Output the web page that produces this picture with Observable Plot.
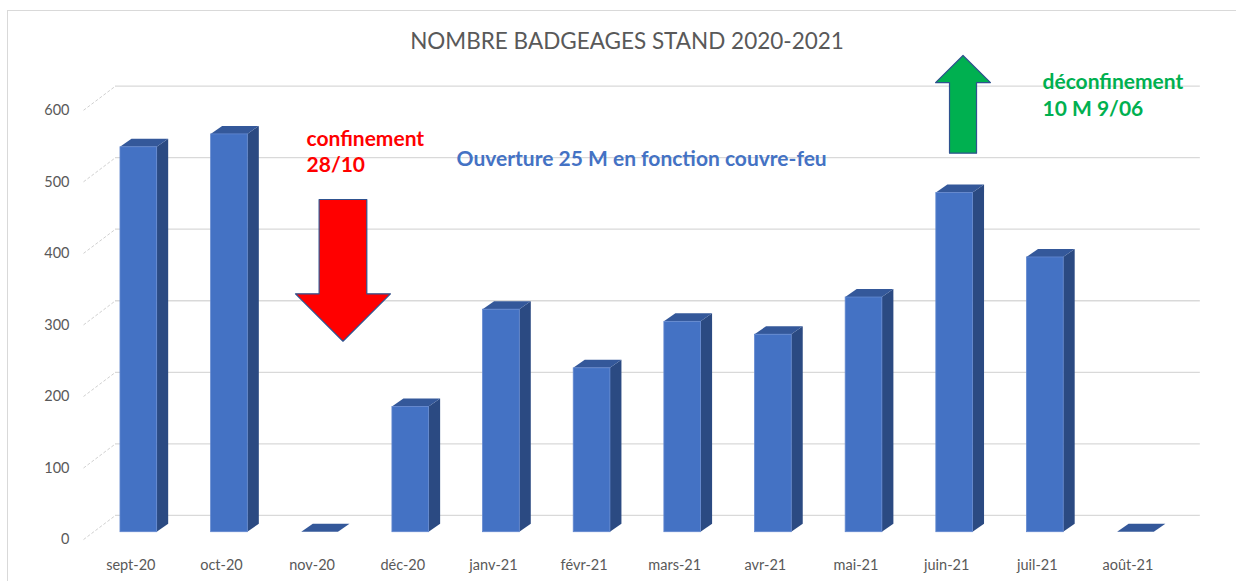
<!DOCTYPE html>
<html><head><meta charset="utf-8">
<script src="https://cdn.jsdelivr.net/npm/d3@7"></script>
<script src="https://cdn.jsdelivr.net/npm/@observablehq/plot@0.6"></script>
<style>
html,body{margin:0;padding:0;background:#fff;}
#wrap{position:relative;width:1236px;height:581px;overflow:hidden;font-family:Lato, sans-serif;}
#frame{position:absolute;left:7px;top:10px;width:1260px;height:600px;border:1px solid #d9d9d9;box-sizing:border-box;}
#title{position:relative;height:50px;box-sizing:border-box;padding-top:30px;padding-left:18px;text-align:center;font-size:22.5px;line-height:22px;color:#595959;white-space:nowrap;}
#chart{position:relative;}
#chart svg{overflow:visible;}
</style></head><body>
<div id="wrap"><div id="frame"></div><div id="title">NOMBRE BADGEAGES STAND 2020-2021</div><div id="chart"></div></div>
<script>
// ---- data ----
const months = ["sept-20","oct-20","nov-20","déc-20","janv-21","févr-21","mars-21","avr-21","mai-21","juin-21","juil-21","août-21"];
const badgeages = [538, 556, 0, 175, 311, 229, 294, 276, 328, 474, 384, 0];
const yTicks = [0, 100, 200, 300, 400, 500, 600];

// ---- annotations ----
const notes = [
  {text: "confinement\n28/10", x: 1.85, y: 533.5, color: "#FF0000"},
  {text: "Ouverture 25 M en fonction couvre-feu", x: 3.505, y: 523.7, color: "#4472C4"},
  {text: "déconfinement\n10 M 9/06", x: 9.969, y: 612.4, color: "#00B050"}
];
const arrows = [
  {id: "down", x: 2.252, shaft: 0.263, head: 0.524, tail: 465.0, base: 333.2, tip: 266.9, color: "#FF0000"},
  {id: "up", x: 9.092, shaft: 0.149, head: 0.303, tail: 529.7, base: 628.4, tip: 666.3, color: "#00B050"}
];

// ---- 3D geometry (pseudo-depth) ----
const hw = 0.2024, d = 0.127, dv = 11.2, back = 23.5;
const bars = months.map((m, i) => ({i, m, v: badgeages[i]}));
const sideFace = bars.flatMap(b => [
  {i: b.i, x: b.i + hw, y1: 0, y2: b.v},
  {i: b.i, x: b.i + hw + d, y1: dv, y2: b.v + dv}
]);
const topFace = bars.flatMap(b => [
  {i: b.i, y: b.v, x1: b.i - hw, x2: b.i + hw},
  {i: b.i, y: b.v + dv, x1: b.i - hw + d, x2: b.i + hw + d}
]);
function blockArrow(a) {
  return [
    [a.x - a.shaft, a.tail], [a.x + a.shaft, a.tail], [a.x + a.shaft, a.base],
    [a.x + a.head, a.base], [a.x, a.tip], [a.x - a.head, a.base], [a.x - a.shaft, a.base]
  ].map(([x, y]) => ({x, y, id: a.id}));
}

const chart = Plot.plot({
  width: 1236, height: 531,
  marginLeft: 66, marginRight: 28, marginTop: 38, marginBottom: 49,
  x: {type: "linear", domain: [-0.8, 11.8], range: [65.8, 1208], label: null},
  y: {domain: [0, 620], range: [481.7, 38.1], label: null},
  style: {fontFamily: "Lato, sans-serif", background: "transparent", overflow: "visible"},
  marks: [
    Plot.ruleY(yTicks, {y: v => v + back, x1: -0.257, x2: 11.71, stroke: "#d9d9d9", strokeWidth: 1.3}),
    Plot.link(yTicks, {x1: -0.61, y1: v => v - 10.3, x2: -0.257, y2: v => v + back, stroke: "#d0d0d0", strokeDasharray: "3,2"}),
    Plot.areaY(sideFace, {x: "x", y1: "y1", y2: "y2", z: "i", fill: "#2B4A82"}),
    Plot.areaX(topFace, {y: "y", x1: "x1", x2: "x2", z: "i", fill: "#34589A"}),
    Plot.rect(bars, {x1: b => b.i - hw, x2: b => b.i + hw, y1: 0, y2: "v", fill: "#4472C4", stroke: "#6388CF", strokeWidth: 0.8}),
    Plot.axisY({ticks: yTicks, tickSize: 0, tickPadding: 0, dx: 3, dy: 7.5, fontSize: 14.5, fill: "#595959", label: null}),
    Plot.axisX({ticks: d3.range(months.length), tickFormat: i => months[i], tickSize: 0, tickPadding: 27, dx: -8, fontSize: 14.5, fill: "#595959", label: null}),
    ...arrows.map(a => Plot.line(blockArrow(a), {x: "x", y: "y", z: "id", curve: "linear-closed", fill: a.color, stroke: "#2F528F", strokeWidth: 1.2})),
    ...notes.map(n => Plot.text([n], {x: "x", y: "y", text: "text", fill: n.color, fontSize: 21, fontWeight: "bold", textAnchor: "start", lineHeight: 1.27}))
  ]
});
document.getElementById("chart").append(chart);
</script>
</body></html>
